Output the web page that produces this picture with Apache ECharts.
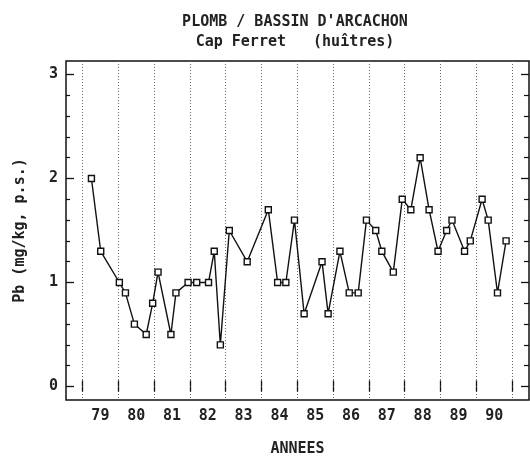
<!DOCTYPE html>
<html>
<head>
<meta charset="utf-8">
<title>Plomb - Cap Ferret</title>
<script src="https://cdn.jsdelivr.net/npm/echarts@6/dist/echarts.min.js"></script>
<style>
  html, body { margin: 0; padding: 0; background: #fff; }
  #main { width: 530px; height: 462px; }
</style>
</head>
<body>
<div id="main"></div>
<script>
// dates des prelevements (annee decimale, 79 = 1979)
var sampleDates = [79.25, 79.51, 80.03, 80.20, 80.45, 80.78, 80.96, 81.11, 81.47, 81.61,
    81.95, 82.19, 82.52, 82.68, 82.85, 83.10, 83.60, 84.19, 84.45, 84.68,
    84.92, 85.19, 85.69, 85.86, 86.19, 86.45, 86.70, 86.93, 87.19, 87.36,
    87.68, 87.93, 88.17, 88.43, 88.68, 88.93, 89.17, 89.32, 89.67, 89.83,
    90.16, 90.33, 90.59, 90.83];
// Pb en mg/kg poids sec
var pbValues = [2.0, 1.3, 1.0, 0.9, 0.6, 0.5, 0.8, 1.1, 0.5, 0.9,
    1.0, 1.0, 1.0, 1.3, 0.4, 1.5, 1.2, 1.7, 1.0, 1.0,
    1.6, 0.7, 1.2, 0.7, 1.3, 0.9, 0.9, 1.6, 1.5, 1.3,
    1.1, 1.8, 1.7, 2.2, 1.7, 1.3, 1.5, 1.6, 1.3, 1.4,
    1.8, 1.6, 0.9, 1.4];
var yearLabels = ['79', '80', '81', '82', '83', '84', '85', '86', '87', '88', '89', '90'];
var yearBounds = [79, 80, 81, 82, 83, 84, 85, 86, 87, 88, 89, 90, 91];
var yLabels = [0, 1, 2, 3];
var yMinor = [0.2, 0.4, 0.6, 0.8, 1.2, 1.4, 1.6, 1.8, 2.2, 2.4, 2.6, 2.8];

var font = 'DejaVu Sans Mono';
var ink = '#111';
var txt = { fontFamily: font, fontSize: 15, fontWeight: 'bold', color: '#222' };

var myChart;
function drawChart() {
    if (myChart != null && myChart != undefined) {
        myChart.dispose();
    }
    myChart = echarts.init(document.getElementById('main'));

    var points = [];
    for (var i = 0; i < sampleDates.length; i++) {
        points.push([sampleDates[i], pbValues[i]]);
    }
    var labelPos = [];
    for (var j = 0; j < yearLabels.length; j++) {
        labelPos.push(yearBounds[j] + 0.5);
    }

    var xMin = 78.54, xMax = 91.47;
    var yMin = -0.13, yMax = 3.13;

    var option = {
        backgroundColor: '#fff',
        animation: false,
        title: {
            text: "PLOMB / BASSIN D'ARCACHON",
            subtext: 'Cap Ferret   (huîtres)',
            left: 295,
            textAlign: 'center',
            top: 14,
            itemGap: 4,
            padding: 0,
            textStyle: { fontFamily: font, fontSize: 15, fontWeight: 'bold', color: '#222', lineHeight: 16 },
            subtextStyle: { fontFamily: font, fontSize: 15, fontWeight: 'bold', color: '#222', lineHeight: 16 }
        },
        grid: {
            left: 66, top: 61, right: 1, bottom: 55,
            show: true,
            borderColor: ink,
            borderWidth: 1.5,
            backgroundColor: 'transparent'
        },
        xAxis: [
            {
                type: 'value',
                position: 'bottom',
                min: xMin, max: xMax,
                name: 'ANNEES',
                nameLocation: 'middle',
                nameGap: 42,
                nameTextStyle: txt,
                axisLine: { show: false },
                axisTick: { show: true, inside: true, length: 6, customValues: yearBounds,
                    lineStyle: { color: ink, width: 1.3 } },
                axisLabel: {
                    customValues: labelPos,
                    margin: 9,
                    fontFamily: font, fontSize: 15, fontWeight: 'bold', color: '#222',
                    formatter: function (v) { return yearLabels[Math.round(v - 79.5)]; }
                },
                splitLine: { show: true, lineStyle: { color: '#666', type: [1, 2], width: 1 } }
            },
            {
                type: 'value',
                position: 'top',
                min: xMin, max: xMax,
                axisLine: { show: false },
                axisTick: { show: true, inside: true, length: 5, customValues: yearBounds,
                    lineStyle: { color: ink, width: 1.3 } },
                axisLabel: { show: false },
                splitLine: { show: false }
            }
        ],
        yAxis: [
            {
                type: 'value',
                position: 'left',
                min: yMin, max: yMax,
                name: 'Pb (mg/kg, p.s.)',
                nameLocation: 'middle',
                nameGap: 38,
                nameTextStyle: txt,
                axisLine: { show: false },
                axisTick: { show: true, inside: true, length: 8, customValues: yLabels,
                    lineStyle: { color: ink, width: 1.3 } },
                axisLabel: { customValues: yLabels, margin: 8, fontFamily: font, fontSize: 15, fontWeight: 'bold', color: '#222' },
                splitLine: { show: false }
            },
            {
                type: 'value',
                position: 'left',
                min: yMin, max: yMax,
                axisLine: { show: false },
                axisTick: { show: true, inside: true, length: 4, customValues: yMinor,
                    lineStyle: { color: ink, width: 1.2 } },
                axisLabel: { show: false },
                splitLine: { show: false }
            },
            {
                type: 'value',
                position: 'right',
                min: yMin, max: yMax,
                axisLine: { show: false },
                axisTick: { show: true, inside: true, length: 8, customValues: yLabels,
                    lineStyle: { color: ink, width: 1.3 } },
                axisLabel: { show: false },
                splitLine: { show: false }
            },
            {
                type: 'value',
                position: 'right',
                min: yMin, max: yMax,
                axisLine: { show: false },
                axisTick: { show: true, inside: true, length: 5, customValues: yMinor,
                    lineStyle: { color: ink, width: 1.2 } },
                axisLabel: { show: false },
                splitLine: { show: false }
            }
        ],
        series: [
            {
                name: 'Pb',
                type: 'line',
                data: points,
                xAxisIndex: 0,
                yAxisIndex: 0,
                symbol: 'rect',
                symbolSize: 6,
                lineStyle: { color: ink, width: 1.4 },
                itemStyle: { color: '#fff', borderColor: ink, borderWidth: 1.4 },
                z: 5
            }
        ]
    };

    myChart.setOption(option);
}

drawChart();
</script>
</body>
</html>
